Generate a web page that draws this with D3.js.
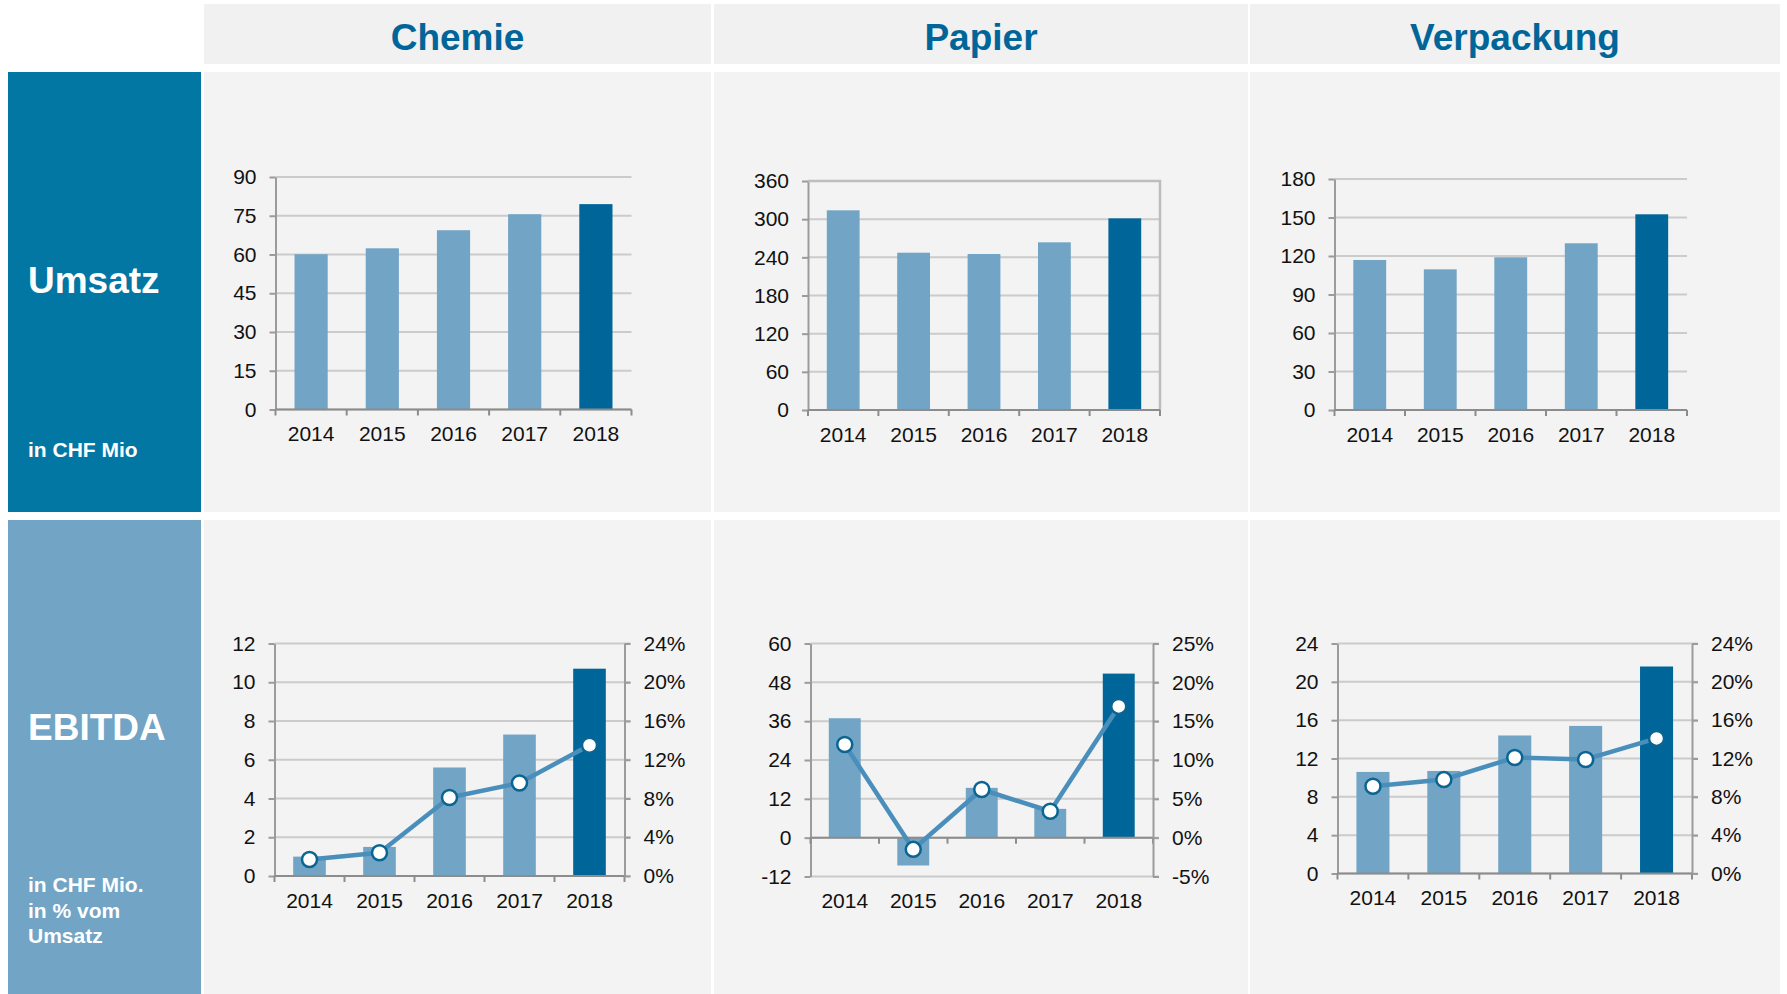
<!doctype html>
<html>
<head>
    <meta charset="utf-8">
    <title>Umsatz und EBITDA</title>
    <script src="https://d3js.org/d3.v7.min.js"></script>
    <style>
        body { margin: 0; background: #fff; }
        text { font-family: "Liberation Sans", Arial, sans-serif; }
    </style>
</head>
<body>
<svg width="1787" height="994"></svg>
<script>
    // --- data ---
    var years = ["2014", "2015", "2016", "2017", "2018"];
    var segments = ["Chemie", "Papier", "Verpackung"];

    var umsatzChemie = [60.1, 62.4, 69.4, 75.6, 79.5];
    var umsatzPapier = [313.9, 247.3, 245.2, 263.6, 301.3];
    var umsatzVerpackung = [116.9, 109.6, 119.0, 129.9, 152.5];

    var ebitdaChemie = [1.0, 1.5, 5.6, 7.3, 10.7];
    var ebitdaPapier = [36.9, -8.6, 15.4, 8.9, 50.7];
    var ebitdaVerpackung = [10.6, 10.7, 14.4, 15.4, 21.6];

    // EBITDA in % vom Umsatz
    var margeChemie = [1.7, 2.4, 8.1, 9.6, 13.5];
    var margePapier = [12.0, -1.5, 6.2, 3.4, 16.9];
    var margeVerpackung = [9.1, 9.8, 12.1, 11.9, 14.1];

    // tick labels
    var ticksUmsatzChemie = [0, 15, 30, 45, 60, 75, 90];
    var ticksUmsatzPapier = [0, 60, 120, 180, 240, 300, 360];
    var ticksUmsatzVerpackung = [0, 30, 60, 90, 120, 150, 180];
    var ticksEbitdaChemie = [0, 2, 4, 6, 8, 10, 12];
    var ticksEbitdaPapier = [-12, 0, 12, 24, 36, 48, 60];
    var ticksEbitdaVerpackung = [0, 4, 8, 12, 16, 20, 24];
    var ticksMargeChemie = [0, 4, 8, 12, 16, 20, 24];
    var ticksMargePapier = [-5, 0, 5, 10, 15, 20, 25];
    var ticksMargeVerpackung = [0, 4, 8, 12, 16, 20, 24];

    // colours
    var lightBlue = "#71a4c5",
        darkBlue = "#00669a",
        headBlue = "#0277a4",
        lineBlue = "#4a8fbb",
        gridGrey = "#cbcbcb",
        axisGrey = "#9b9b9b";

    var svg = d3.select("svg");

    // --- background blocks ---
    var cols = [[204, 711], [714, 1248], [1250, 1780]];

    svg.selectAll("rect.head")
        .data(segments)
        .enter().append("rect")
        .attr("x", function(d, i) { return cols[i][0]; })
        .attr("y", 4)
        .attr("width", function(d, i) { return cols[i][1] - cols[i][0]; })
        .attr("height", 60)
        .attr("fill", "#f1f1f1");

    svg.selectAll("text.head")
        .data(segments)
        .enter().append("text")
        .attr("x", function(d, i) { return (cols[i][0] + cols[i][1]) / 2; })
        .attr("y", 50)
        .attr("text-anchor", "middle")
        .attr("fill", darkBlue)
        .style("font-size", "37px")
        .style("font-weight", "bold")
        .text(function(d) { return d; });

    // panels for both rows
    [[72, 512], [520, 994]].forEach(function(r) {
        cols.forEach(function(c) {
            svg.append("rect")
                .attr("x", c[0]).attr("y", r[0])
                .attr("width", c[1] - c[0]).attr("height", r[1] - r[0])
                .attr("fill", "#f3f3f3");
        });
    });

    // row labels
    svg.append("rect").attr("x", 8).attr("y", 72).attr("width", 193).attr("height", 440).attr("fill", headBlue);
    svg.append("rect").attr("x", 8).attr("y", 520).attr("width", 193).attr("height", 474).attr("fill", lightBlue);

    function rowLabel(txt, y, size) {
        svg.append("text")
            .attr("x", 28).attr("y", y)
            .attr("fill", "#fff")
            .style("font-size", size + "px")
            .style("font-weight", "bold")
            .text(txt);
    }
    rowLabel("Umsatz", 293, 37);
    rowLabel("in CHF Mio", 457, 21);
    rowLabel("EBITDA", 740, 37);
    rowLabel("in CHF Mio.", 892, 21);
    rowLabel("in % vom", 918, 21);
    rowLabel("Umsatz", 943, 21);

    // plain hyphen for negatives, like the original
    function plain(d) { return String(d); }

    // --- one chart ---
    function drawChart(o) {
        var g = svg.append("g");
        var ticks = o.ticks;

        var x = d3.scaleBand().domain(years).range([o.x0, o.x1]).padding(0);
        var y = d3.scaleLinear().domain([ticks[0], ticks[ticks.length - 1]]).range([o.yB, o.yT]);
        var bw = x.bandwidth() * 0.466;
        var gridEnd = o.pct ? o.x1 + 6 : o.x1;

        // gridlines
        g.selectAll("line.grid")
            .data(ticks)
            .enter().append("line")
            .attr("x1", o.x0).attr("x2", gridEnd)
            .attr("y1", function(d) { return y(d); })
            .attr("y2", function(d) { return y(d); })
            .attr("stroke", gridGrey)
            .attr("stroke-width", 2);

        // bars
        g.selectAll("rect.bar")
            .data(o.values)
            .enter().append("rect")
            .attr("x", function(d, i) { return x(years[i]) + (x.bandwidth() - bw) / 2; })
            .attr("y", function(d) { return y(Math.max(0, d)); })
            .attr("width", bw)
            .attr("height", function(d) { return Math.abs(y(d) - y(0)); })
            .attr("fill", function(d, i) { return i == years.length - 1 ? darkBlue : lightBlue; });

        // left axis
        var left = g.append("g")
            .attr("transform", "translate(" + o.x0 + ",0)")
            .call(d3.axisLeft(y).tickValues(ticks).tickFormat(plain)
                .tickSize(6).tickSizeOuter(0).tickPadding(13));
        left.select(".domain").attr("stroke", axisGrey).attr("stroke-width", 2);
        left.selectAll(".tick line").attr("stroke", axisGrey).attr("stroke-width", 2);
        left.selectAll(".tick text").attr("fill", "#111").style("font-size", "21px")
            .style("font-family", "'Liberation Sans', Arial, sans-serif");

        // frame on the top and right (Papier Umsatz)
        if (o.frame) {
            g.append("path")
                .attr("d", "M" + o.x0 + "," + o.yT + "H" + o.x1 + "V" + o.yB)
                .attr("fill", "none")
                .attr("stroke", "#bdbdbd")
                .attr("stroke-width", 2.5);
        }

        // x axis at zero with ticks between categories
        var y0 = y(0);
        g.append("line")
            .attr("x1", o.x0).attr("x2", o.x1)
            .attr("y1", y0).attr("y2", y0)
            .attr("stroke", "#8c8c8c").attr("stroke-width", 2);
        var bounds = years.map(function(d) { return x(d); }).concat([o.x1]);
        g.selectAll("line.xt")
            .data(bounds)
            .enter().append("line")
            .attr("x1", function(d) { return d; }).attr("x2", function(d) { return d; })
            .attr("y1", y0).attr("y2", y0 + 6)
            .attr("stroke", "#8c8c8c").attr("stroke-width", 2);

        // category labels below the plot
        g.selectAll("text.xl")
            .data(years)
            .enter().append("text")
            .attr("x", function(d) { return x(d) + x.bandwidth() / 2; })
            .attr("y", o.yB + 24)
            .attr("dy", "0.36em")
            .attr("text-anchor", "middle")
            .attr("fill", "#111")
            .style("font-size", "21px")
            .text(function(d) { return d; });

        if (!o.pct) return;

        // right axis and margin line
        var p = o.pctTicks;
        var y2 = d3.scaleLinear().domain([p[0], p[p.length - 1]]).range([o.yB, o.yT]);
        var right = g.append("g")
            .attr("transform", "translate(" + o.x1 + ",0)")
            .call(d3.axisRight(y2).tickValues(p).tickSize(6).tickSizeOuter(0).tickPadding(13)
                .tickFormat(function(d) { return plain(d) + "%"; }));
        right.select(".domain").attr("stroke", axisGrey).attr("stroke-width", 2);
        right.selectAll(".tick line").attr("stroke", axisGrey).attr("stroke-width", 2);
        right.selectAll(".tick text").attr("fill", "#111").style("font-size", "21px")
            .style("font-family", "'Liberation Sans', Arial, sans-serif");

        var line = d3.line()
            .x(function(d, i) { return x(years[i]) + x.bandwidth() / 2; })
            .y(function(d) { return y2(d); });

        g.append("path")
            .datum(o.pct)
            .attr("d", line)
            .attr("fill", "none")
            .attr("stroke", lineBlue)
            .attr("stroke-width", 4.5)
            .attr("stroke-linejoin", "round");

        g.selectAll("circle.pt")
            .data(o.pct)
            .enter().append("circle")
            .attr("cx", function(d, i) { return x(years[i]) + x.bandwidth() / 2; })
            .attr("cy", function(d) { return y2(d); })
            .attr("r", 7.5)
            .attr("fill", "#fff")
            .attr("stroke", "#0a6593")
            .attr("stroke-width", 2.5);
    }

    // Umsatz row
    drawChart({ values: umsatzChemie, ticks: ticksUmsatzChemie, x0: 275.5, x1: 631.5, yT: 177, yB: 409.5 });
    drawChart({ values: umsatzPapier, ticks: ticksUmsatzPapier, x0: 808, x1: 1160, yT: 181, yB: 410, frame: true });
    drawChart({ values: umsatzVerpackung, ticks: ticksUmsatzVerpackung, x0: 1334.5, x1: 1687, yT: 179, yB: 410 });

    // EBITDA row
    drawChart({ values: ebitdaChemie, ticks: ticksEbitdaChemie, pct: margeChemie, pctTicks: ticksMargeChemie,
        x0: 274.5, x1: 624.5, yT: 643.5, yB: 876 });
    drawChart({ values: ebitdaPapier, ticks: ticksEbitdaPapier, pct: margePapier, pctTicks: ticksMargePapier,
        x0: 810.5, x1: 1153, yT: 643.5, yB: 876.5 });
    drawChart({ values: ebitdaVerpackung, ticks: ticksEbitdaVerpackung, pct: margeVerpackung, pctTicks: ticksMargeVerpackung,
        x0: 1337.5, x1: 1692, yT: 643.5, yB: 873.5 });
</script>
</body>
</html>
